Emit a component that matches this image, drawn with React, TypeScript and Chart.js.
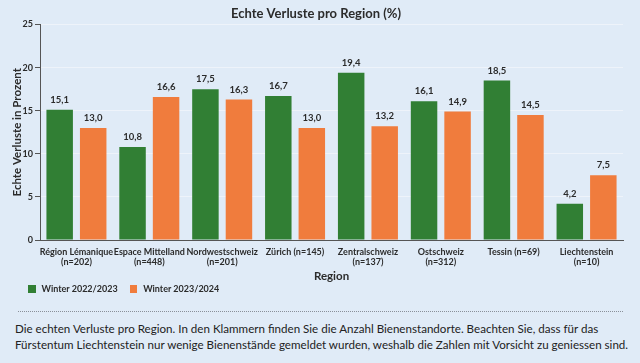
import React, { useEffect, useRef } from "react";
import { Chart, registerables } from "chart.js";

Chart.register(...registerables);

const categories: (string | string[])[] = [
  ["Région Lémanique", "(n=202)"],
  ["Espace Mittelland", "(n=448)"],
  ["Nordwestschweiz", "(n=201)"],
  "Zürich (n=145)",
  ["Zentralschweiz", "(n=137)"],
  ["Ostschweiz", "(n=312)"],
  "Tessin (n=69)",
  ["Liechtenstein", "(n=10)"],
];
const winter2223 = [15.1, 10.8, 17.5, 16.7, 19.4, 16.1, 18.5, 4.2];
const winter2324 = [13.0, 16.6, 16.3, 13.0, 13.2, 14.9, 14.5, 7.5];
const seriesNames = ["Winter 2022/2023", "Winter 2023/2024"];
const yTicks = [0, 5, 10, 15, 20, 25];

const FONT = "Lato, 'Open Sans', sans-serif";
const BG = "#e0ebf7";
const GREEN = "#317f34";
const ORANGE = "#f07c3d";
const TEXT = "#2b2b2b";
const COLORS = [GREEN, ORANGE];

const valueLabels = {
  id: "valueLabels",
  afterDatasetsDraw(chart: any) {
    const ctx = chart.ctx;
    ctx.save();
    ctx.font = `bold 9.5px ${FONT}`;
    ctx.fillStyle = TEXT;
    ctx.textAlign = "center";
    ctx.textBaseline = "middle";
    chart.data.datasets.forEach((ds: any, i: number) => {
      const meta = chart.getDatasetMeta(i);
      meta.data.forEach((bar: any, j: number) => {
        const v = ds.data[j] as number;
        ctx.fillText(v.toFixed(1).replace(".", ","), bar.x, bar.y - 10);
      });
    });
    ctx.restore();
  },
};

export default function App() {
  const ref = useRef<HTMLCanvasElement>(null);
  useEffect(() => {
    document.body.style.margin = "0";
    const chart = new Chart(ref.current!, {
      type: "bar",
      data: {
        labels: categories,
        datasets: [
          { label: seriesNames[0], data: winter2223, backgroundColor: GREEN },
          { label: seriesNames[1], data: winter2324, backgroundColor: ORANGE },
        ],
      },
      options: {
        animation: false,
        responsive: false,
        maintainAspectRatio: false,
        layout: { padding: { left: 9, right: 17, top: 4, bottom: 0 } },
        datasets: { bar: { categoryPercentage: 0.92, barPercentage: 0.79 } },
        plugins: {
          title: {
            display: true,
            text: "Echte Verluste pro Region (%)",
            color: TEXT,
            font: { family: FONT, size: 13, weight: "bold" },
            padding: { top: 2.5, bottom: 2.4 },
          },
          legend: { display: false },
          tooltip: { enabled: false },
        },
        scales: {
          x: {
            afterFit: (axis: any) => {
              axis.height = 44;
            },
            grid: { display: false, drawTicks: false },
            border: { display: true, color: "#555", width: 1 },
            ticks: {
              color: TEXT,
              maxRotation: 0,
              autoSkip: false,
              padding: 7,
              font: { family: FONT, size: 9, weight: "bold", lineHeight: 1.1 },
            },
            title: {
              display: true,
              text: "Region",
              color: TEXT,
              font: { family: FONT, size: 11.5, weight: "bold" },
              padding: { top: 0, bottom: 1 },
            },
          },
          y: {
            min: 0,
            max: 25,
            afterFit: (axis: any) => {
              axis.width = 31;
            },
            afterBuildTicks: (axis: any) => {
              axis.ticks = yTicks.map((v) => ({ value: v }));
            },
            grid: {
              color: "#eef3fa",
              lineWidth: 1,
              tickLength: 5,
              tickColor: "#555",
            },
            border: { display: true, color: "#555", width: 1 },
            ticks: {
              color: TEXT,
              padding: 2,
              font: { family: FONT, size: 9, weight: "bold" },
            },
            title: {
              display: true,
              text: "Echte Verluste in Prozent",
              color: TEXT,
              font: { family: FONT, size: 11.5, weight: "bold" },
              padding: { top: 1, bottom: 1 },
            },
          },
        },
      },
      plugins: [valueLabels],
    });
    return () => chart.destroy();
  }, []);

  return (
    <div style={{ width: 640, height: 363, background: BG, position: "relative", overflow: "hidden" }}>
      <canvas ref={ref} width={640} height={284} style={{ display: "block" }} />
      <div
        style={{
          position: "absolute",
          left: 28,
          top: 282,
          display: "flex",
          alignItems: "center",
          fontFamily: FONT,
          fontWeight: "bold",
          fontSize: 9,
          color: TEXT,
          lineHeight: "14px",
        }}
      >
        {seriesNames.map((name, i) => (
          <div key={name} style={{ display: "flex", alignItems: "center", marginRight: 12 }}>
            <span
              style={{
                display: "inline-block",
                width: 7.5,
                height: 7.5,
                background: COLORS[i],
                marginRight: 6,
              }}
            />
            <span>{name}</span>
          </div>
        ))}
      </div>
      <div
        style={{
          position: "absolute",
          left: 18,
          top: 311,
          width: 605,
          borderTop: "1.5px dotted #8a9099",
        }}
      />
      <div
        style={{
          position: "absolute",
          left: 15,
          top: 321,
          width: 625,
          fontFamily: FONT,
          fontSize: 11.6,
          lineHeight: "16px",
          color: "#222",
          whiteSpace: "nowrap",
        }}
      >
        Die echten Verluste pro Region. In den Klammern finden Sie die Anzahl Bienenstandorte. Beachten Sie, dass für das
        <br />
        Fürstentum Liechtenstein nur wenige Bienenstände gemeldet wurden, weshalb die Zahlen mit Vorsicht zu geniessen sind.
      </div>
    </div>
  );
}
